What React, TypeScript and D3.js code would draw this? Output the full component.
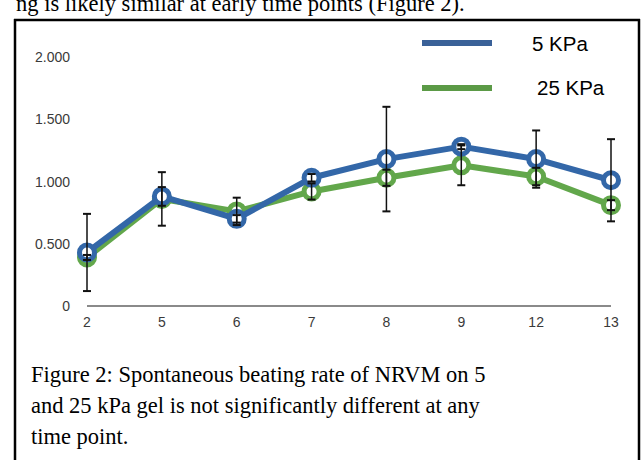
import React from "react";
import * as d3 from "d3";

const categories = ["2", "5", "6", "7", "8", "9", "12", "13"];
const rate5 = [0.43, 0.88, 0.7, 1.03, 1.18, 1.28, 1.18, 1.01];
const err5 = [0.31, 0.075, 0.03, 0.03, 0.42, 0.02, 0.23, 0.33];
const rate25 = [0.39, 0.86, 0.76, 0.92, 1.03, 1.13, 1.04, 0.81];
const err25 = [0.02, 0.215, 0.11, 0.065, 0.065, 0.16, 0.07, 0.04];
const yTicks = [0, 0.5, 1, 1.5, 2];
const yTickLabels = ["0", "0.500", "1.000", "1.500", "2.000"];
const seriesNames = ["5 KPa", "25 KPa"];
const captionLines = [
  "Figure 2: Spontaneous beating rate of NRVM on 5",
  "and 25 kPa gel is not significantly different at any",
  "time point.",
];
const topLine = "ng is likely similar at early time points (Figure 2).";

const W = 642;
const H = 460;
const BLUE = "#3367a8";
const GREEN = "#62a74b";
const BLUE_LEG = "#3a6198";
const GREEN_LEG = "#5b9a46";

export default function App() {
  const x = d3.scalePoint<string>().domain(categories).range([87, 611]);
  const y = d3.scaleLinear().domain([0, 2]).range([306, 57]);
  const line = d3
    .line<number>()
    .x((_, i) => x(categories[i]) as number)
    .y((d) => y(d));

  const series = [
    { name: seriesNames[1], vals: rate25, errs: err25, color: GREEN },
    { name: seriesNames[0], vals: rate5, errs: err5, color: BLUE },
  ];

  const tickFont = "'Liberation Sans', Arial, Helvetica, sans-serif";
  const serif = "'Liberation Serif', 'Times New Roman', serif";

  return (
    <svg
      width={W}
      height={H}
      style={{ position: "absolute", left: 0, top: 0, background: "#fff" }}
    >
      <rect x={0} y={0} width={W} height={H} fill="#fff" />

      {/* cut-off text line above the frame */}
      <text x={16} y={11} fontFamily={serif} fontSize={22.5} fill="#000">
        {topLine}
      </text>
      <rect x={0} y={20} width={W} height={H - 20} fill="#fff" />

      {/* frame */}
      <line x1={14} y1={20} x2={640} y2={20} stroke="#000" strokeWidth={2.5} />
      <line x1={15} y1={19} x2={15} y2={H} stroke="#000" strokeWidth={2.5} />
      <line x1={639} y1={19} x2={639} y2={H} stroke="#000" strokeWidth={2.5} />

      {/* y tick labels */}
      {yTicks.map((t, i) => (
        <text
          key={"yt" + i}
          x={70}
          y={y(t)}
          dy="0.36em"
          textAnchor="end"
          fontFamily={tickFont}
          fontSize={14}
          fill="#3a3a3a"
        >
          {yTickLabels[i]}
        </text>
      ))}

      {/* x axis */}
      <line
        x1={x(categories[0])}
        x2={x(categories[categories.length - 1])}
        y1={y(0)}
        y2={y(0)}
        stroke="#8a8a8a"
        strokeWidth={2}
      />
      {categories.map((c) => (
        <text
          key={"xt" + c}
          x={x(c)}
          y={327}
          textAnchor="middle"
          fontFamily={tickFont}
          fontSize={14}
          fill="#3a3a3a"
        >
          {c}
        </text>
      ))}

      {/* series */}
      {series.map((s) => (
        <g key={s.name}>
          <path
            d={line(s.vals) || ""}
            fill="none"
            stroke={s.color}
            strokeWidth={6}
            strokeLinejoin="round"
          />
          {s.vals.map((v, i) => (
            <circle
              key={i}
              cx={x(categories[i])}
              cy={y(v)}
              r={7.5}
              fill="#fff"
              stroke={s.color}
              strokeWidth={5}
            />
          ))}
        </g>
      ))}

      {/* error bars */}
      {series.map((s) =>
        s.vals.map((v, i) => {
          const cx = x(categories[i]) as number;
          const top = y(v + s.errs[i]);
          const bot = y(v - s.errs[i]);
          return (
            <g key={s.name + "e" + i} stroke="#111">
              <line x1={cx} x2={cx} y1={top} y2={bot} strokeWidth={1.5} />
              <line x1={cx - 4} x2={cx + 4} y1={top} y2={top} strokeWidth={2} />
              <line x1={cx - 4} x2={cx + 4} y1={bot} y2={bot} strokeWidth={2} />
            </g>
          );
        })
      )}

      {/* legend */}
      <line x1={422} x2={492} y1={43} y2={43} stroke={BLUE_LEG} strokeWidth={6} />
      <line x1={422} x2={492} y1={88} y2={88} stroke={GREEN_LEG} strokeWidth={6} />
      <text x={532} y={51} fontFamily={tickFont} fontSize={20.5} fill="#000">
        {seriesNames[0]}
      </text>
      <text x={537} y={95} fontFamily={tickFont} fontSize={20.5} fill="#000">
        {seriesNames[1]}
      </text>

      {/* caption */}
      {captionLines.map((l, i) => (
        <text
          key={"cap" + i}
          x={31}
          y={382 + i * 31}
          fontFamily={serif}
          fontSize={22.5}
          fill="#000"
        >
          {l}
        </text>
      ))}
    </svg>
  );
}
